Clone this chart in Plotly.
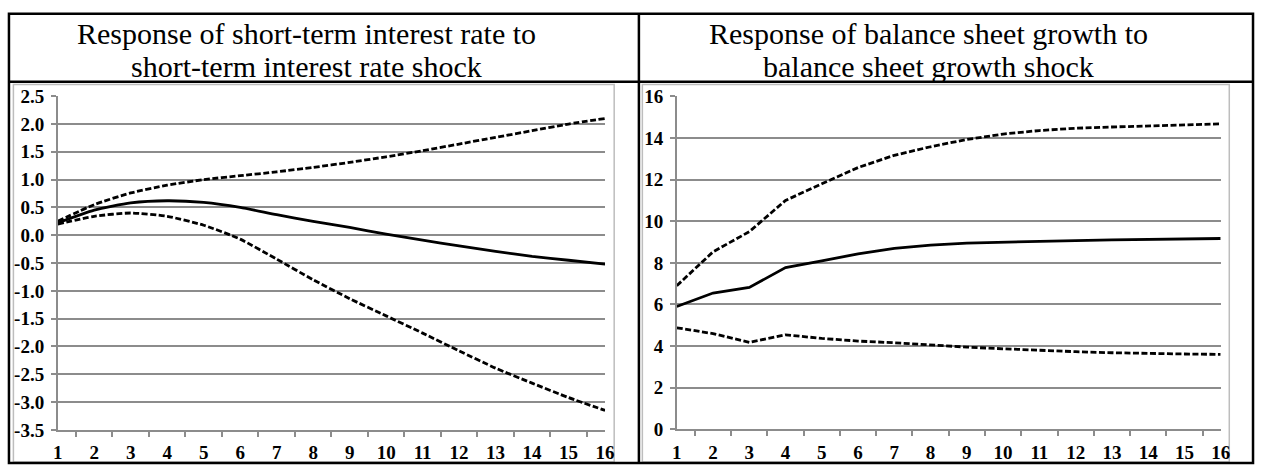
import plotly.graph_objects as go

# Horizon (quarters after the shock)
periods = [str(i) for i in range(1, 17)]

# Short-term interest rate response to its own shock
rate_mid = [0.22, 0.45, 0.58, 0.62, 0.59, 0.50, 0.37, 0.25, 0.14, 0.02, -0.09, -0.19, -0.29, -0.38, -0.45, -0.52]
rate_upper = [0.25, 0.55, 0.76, 0.90, 1.00, 1.07, 1.14, 1.22, 1.31, 1.41, 1.52, 1.64, 1.76, 1.88, 2.00, 2.10]
rate_lower = [0.20, 0.34, 0.40, 0.34, 0.18, -0.07, -0.43, -0.80, -1.14, -1.45, -1.76, -2.08, -2.39, -2.66, -2.92, -3.15]

# Balance sheet growth response to its own shock
bs_mid = [5.90, 6.55, 6.82, 7.77, 8.10, 8.43, 8.70, 8.85, 8.95, 9.00, 9.04, 9.07, 9.10, 9.12, 9.15, 9.17]
bs_upper = [6.90, 8.53, 9.50, 11.00, 11.80, 12.58, 13.17, 13.58, 13.93, 14.19, 14.36, 14.47, 14.53, 14.57, 14.62, 14.68]
bs_lower = [4.88, 4.60, 4.18, 4.54, 4.37, 4.24, 4.16, 4.05, 3.95, 3.87, 3.79, 3.73, 3.68, 3.64, 3.62, 3.60]

# Y tick values for each panel
rate_ticks = [-3.5, -3.0, -2.5, -2.0, -1.5, -1.0, -0.5, 0.0, 0.5, 1.0, 1.5, 2.0, 2.5]
bs_ticks = [0, 2, 4, 6, 8, 10, 12, 14, 16]

title_lines = [
    ("Response of short-term interest rate to", "short-term interest rate shock"),
    ("Response of balance sheet growth to", "balance sheet growth shock"),
]

W, H = 1264, 475
SERIF = "Liberation Serif"
GRID = "#8c8c8c"


def px(x):
    return x / W


def py(y):
    return 1 - y / H


def bold(labels):
    return [f"<b>{t}</b>" for t in labels]


fig = go.Figure()

dash_style = "6px,2.5px"


def add_panel(mid, upper, lower, xa, ya, shape):
    for vals, dash in ((upper, dash_style), (lower, dash_style), (mid, "solid")):
        fig.add_trace(go.Scatter(
            x=periods, y=vals, mode="lines", xaxis=xa, yaxis=ya,
            line=dict(color="black", width=2.8, dash=dash, shape=shape, smoothing=0.6),
            showlegend=False, hoverinfo="skip",
        ))


add_panel(rate_mid, rate_upper, rate_lower, "x", "y", "spline")
add_panel(bs_mid, bs_upper, bs_lower, "x2", "y2", "linear")

tick_font = dict(family=SERIF, size=19, color="black")

xaxis_common = dict(
    type="category", tickson="boundaries", ticks="outside", ticklen=5,
    tickcolor=GRID, tickwidth=1.5, showline=True, linecolor=GRID, linewidth=1.5,
    showgrid=False, zeroline=False, tickfont=tick_font, fixedrange=True,
    ticklabelstandoff=5, tickmode="array", tickvals=periods, ticktext=bold(periods),
)
yaxis_common = dict(
    ticks="outside", ticklen=5, tickcolor=GRID, tickwidth=1.5,
    showline=True, linecolor=GRID, linewidth=1.5, showgrid=True,
    gridcolor=GRID, gridwidth=1.5, zeroline=False, tickfont=tick_font,
    fixedrange=True, ticklabelstandoff=3, tickmode="array",
)

fig.update_layout(
    width=W, height=H,
    margin=dict(l=0, r=0, t=0, b=0),
    paper_bgcolor="white", plot_bgcolor="white",
    xaxis=dict(domain=[px(53.3), px(606.8)], anchor="y", **xaxis_common),
    yaxis=dict(domain=[py(439.3), py(90.2)], anchor="x", range=[-3.5, 2.5],
               tickvals=rate_ticks, ticktext=bold(f"{v:.1f}" for v in rate_ticks),
               **yaxis_common),
    xaxis2=dict(domain=[px(679.3), px(1229.3)], anchor="y2", **xaxis_common),
    yaxis2=dict(domain=[py(438.7), py(90.4)], anchor="x2", range=[0, 16],
                tickvals=bs_ticks, ticktext=bold(str(v) for v in bs_ticks),
                **yaxis_common),
)

# Table frame: outer border, title row separator and column divider
shapes = [
    dict(type="rect", x0=px(4), x1=px(1262), y0=py(474), y1=py(4),
         line=dict(color="black", width=2.5)),
    dict(type="line", x0=px(4), x1=px(1262), y0=py(75), y1=py(75),
         line=dict(color="black", width=2.5)),
    dict(type="line", x0=px(641), x1=px(641), y0=py(4), y1=py(474),
         line=dict(color="black", width=2.5)),
    # chart-area frames
    dict(type="rect", x0=px(8.5), x1=px(616), y0=py(473), y1=py(78),
         line=dict(color="#bdbdbd", width=1.5)),
    dict(type="rect", x0=px(644.5), x1=px(1238), y0=py(473), y1=py(78),
         line=dict(color="#bdbdbd", width=1.5)),
]
for s in shapes:
    s.update(xref="paper", yref="paper", layer="above" if s["line"]["color"] == "black" else "below")
fig.update_layout(shapes=shapes)

for cx, (line1, line2) in zip((305, 934), title_lines):
    for cy, text in ((25, line1), (59, line2)):
        fig.add_annotation(
            x=px(cx), y=py(cy), xref="paper", yref="paper", text=text,
            showarrow=False, xanchor="center", yanchor="middle",
            font=dict(family=SERIF, size=30, color="black"),
        )

fig.write_html("out.html")
